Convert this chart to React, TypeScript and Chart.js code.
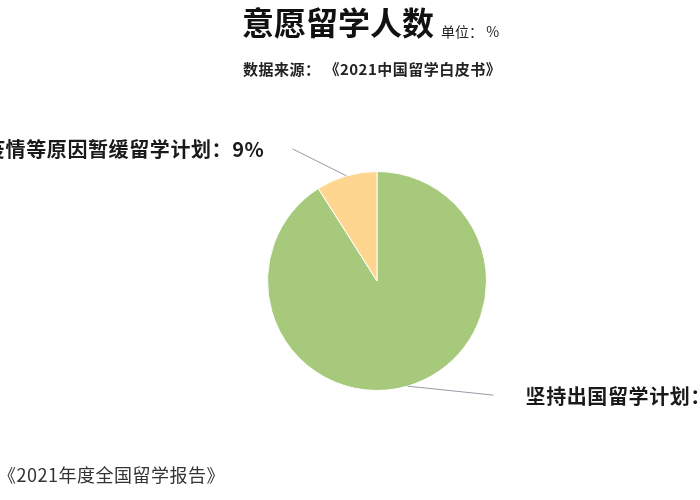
import { useEffect, useRef } from 'react';
import { Chart, registerables } from 'chart.js';

Chart.register(...registerables);

// Data
const categories = ['坚持出国留学计划', '疫情等原因暂缓留学计划'];
const shares = [91, 9];
const sliceColors = ['#A6C97B', '#FFD68F'];

const title = '意愿留学人数';
const unitNote = '单位： %';
const sourceNote = '数据来源： 《2021中国留学白皮书》';
const footerNote = '《2021年度全国留学报告》';

const FONT = '"Noto Sans CJK SC", "Noto Sans", sans-serif';

// leader line end offsets from the arc edge, and text side
const leaders = [
  { dx: 86, dy: 9, gap: 32, align: 'left' as CanvasTextAlign },
  { dx: -54, dy: -27, gap: 28, align: 'right' as CanvasTextAlign },
];

const annotations = {
  id: 'annotations',
  afterDatasetsDraw(chart: Chart) {
    const ctx = chart.ctx as any;
    const meta = chart.getDatasetMeta(0);
    ctx.save();

    meta.data.forEach((el, i) => {
      const { x, y, startAngle, endAngle, outerRadius } = el.getProps(
        ['x', 'y', 'startAngle', 'endAngle', 'outerRadius'],
        true
      ) as any;
      const mid = (startAngle + endAngle) / 2;
      const sx = x + Math.cos(mid) * outerRadius;
      const sy = y + Math.sin(mid) * outerRadius;
      const lead = leaders[i];
      const ex = sx + lead.dx;
      const ey = sy + lead.dy;

      ctx.strokeStyle = '#9a9aa6';
      ctx.lineWidth = 1;
      ctx.beginPath();
      ctx.moveTo(sx, sy);
      ctx.lineTo(ex, ey);
      ctx.stroke();

      ctx.fillStyle = '#1a1a1a';
      ctx.font = `bold 20px ${FONT}`;
      ctx.letterSpacing = '0.6px';
      ctx.textAlign = lead.align;
      ctx.textBaseline = 'middle';
      const tx = lead.align === 'left' ? ex + lead.gap : ex - lead.gap;
      ctx.fillText(`${categories[i]}：${shares[i]}%`, tx, ey + 1);
    });

    ctx.restore();
  },
  afterDraw(chart: Chart) {
    const ctx = chart.ctx as any;
    ctx.save();
    ctx.textBaseline = 'middle';
    ctx.textAlign = 'left';

    ctx.fillStyle = '#111';
    ctx.font = `bold 32px ${FONT}`;
    ctx.letterSpacing = '0px';
    ctx.fillText(title, 242, 23);
    const tw = ctx.measureText(title).width;

    ctx.font = `14px ${FONT}`;
    ctx.fillStyle = '#222';
    ctx.textBaseline = 'alphabetic';
    ctx.fillText(unitNote, 242 + tw + 7, 37);

    ctx.textBaseline = 'middle';
    ctx.font = `bold 15px ${FONT}`;
    ctx.letterSpacing = '0.5px';
    ctx.fillStyle = '#222';
    ctx.fillText(sourceNote, 243, 69);

    ctx.font = `18px ${FONT}`;
    ctx.letterSpacing = '0.5px';
    ctx.fillStyle = '#333';
    ctx.fillText(footerNote, -2, 475);

    ctx.restore();
  },
};

export default function App() {
  const canvasRef = useRef<HTMLCanvasElement>(null);

  useEffect(() => {
    document.body.style.margin = '0';
    if (!canvasRef.current) return;

    const chart = new Chart(canvasRef.current, {
      type: 'pie',
      data: {
        labels: categories,
        datasets: [
          {
            data: shares,
            backgroundColor: sliceColors,
            borderColor: '#ffffff',
            borderWidth: 1,
            hoverOffset: 0,
          },
        ],
      },
      options: {
        responsive: true,
        maintainAspectRatio: false,
        animation: false,
        layout: { padding: { top: 171, bottom: 109, left: 154, right: 100 } },
        plugins: {
          legend: { display: false },
          tooltip: { enabled: false },
        },
      },
      plugins: [annotations],
    });

    return () => chart.destroy();
  }, []);

  return (
    <div style={{ width: 700, height: 500, position: 'relative', background: '#fff' }}>
      <canvas ref={canvasRef} />
    </div>
  );
}
